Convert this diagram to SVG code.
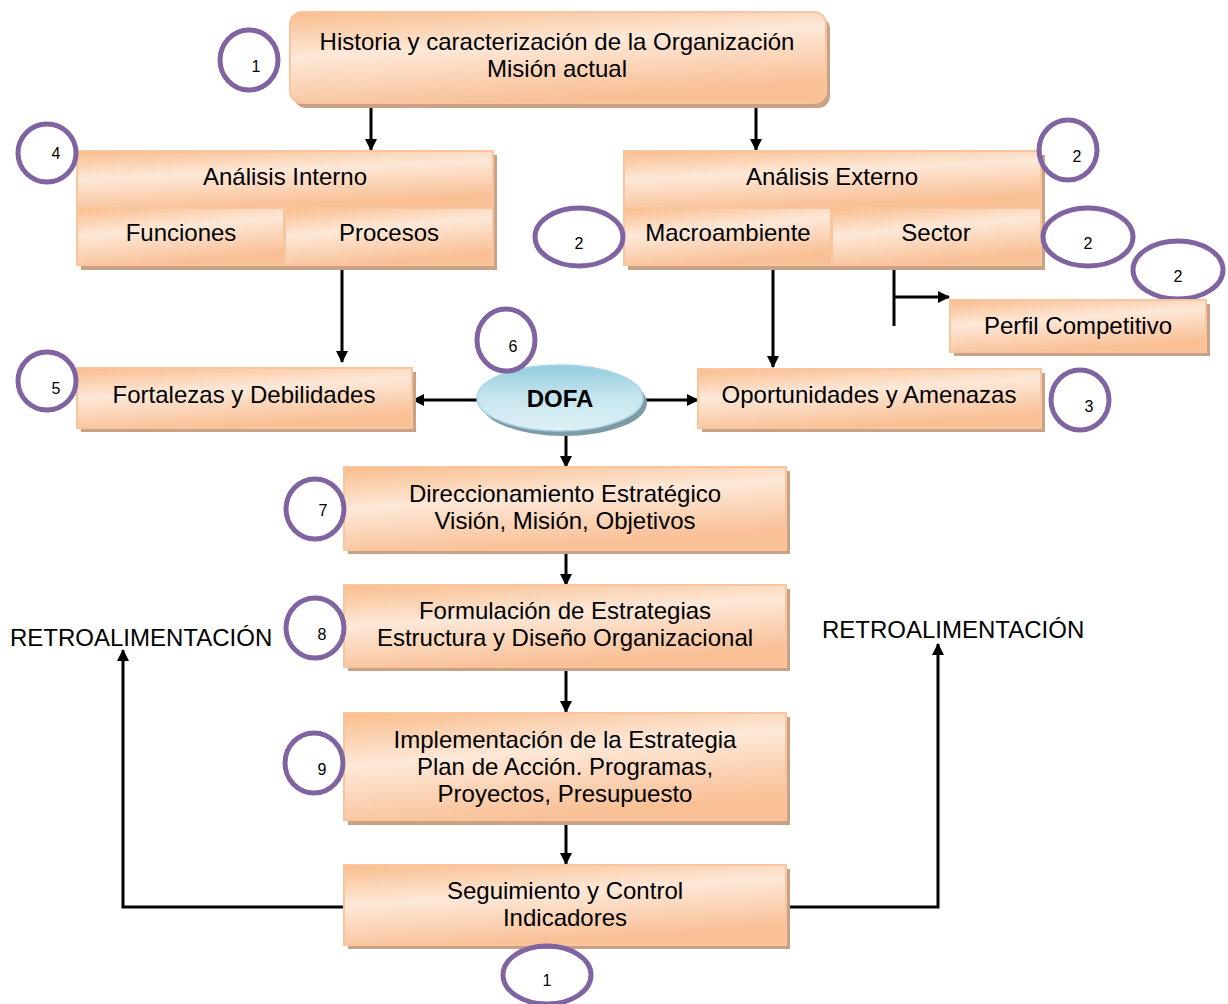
<svg xmlns="http://www.w3.org/2000/svg" width="1228" height="1004" viewBox="0 0 1228 1004">
<defs>
<linearGradient id="og" x1="0" y1="0" x2="0.35" y2="1">
<stop offset="0" stop-color="#F9BD8C"/>
<stop offset="0.45" stop-color="#FDE8D8"/>
<stop offset="1" stop-color="#F9C096"/>
</linearGradient>
<linearGradient id="bg" x1="0" y1="0" x2="0" y2="1">
<stop offset="0" stop-color="#93CDDD"/>
<stop offset="0.5" stop-color="#C6E5EE"/>
<stop offset="1" stop-color="#DFF0F5"/>
</linearGradient>
<marker id="ah" markerWidth="12" markerHeight="12" refX="11" refY="6" orient="auto" markerUnits="userSpaceOnUse">
<path d="M0,0 L12,6 L0,12 z" fill="#000"/>
</marker>
</defs>
<style>
.box{fill:url(#og);stroke:#F8C59E;stroke-width:2}
.sh{fill:#C9A185}
.t{font-family:'Liberation Sans',Arial,Helvetica,sans-serif;font-size:24px;fill:#000;text-anchor:middle}
.lbl{font-family:'Liberation Sans',Arial,Helvetica,sans-serif;font-size:24px;fill:#000}
.c{fill:none;stroke:#8064A2;stroke-width:5}
.n{font-family:'Liberation Sans',Arial,Helvetica,sans-serif;font-size:16px;fill:#000;text-anchor:middle}
.ln{fill:none;stroke:#000;stroke-width:3}
</style>
<rect width="1228" height="1004" fill="#fff"/>

<g id="connectors">
<line class="ln" x1="371" y1="103" x2="371" y2="150" marker-end="url(#ah)"/>
<line class="ln" x1="756" y1="103" x2="756" y2="150" marker-end="url(#ah)"/>
<line class="ln" x1="342" y1="266" x2="342" y2="362" marker-end="url(#ah)"/>
<line class="ln" x1="773" y1="266" x2="773" y2="367" marker-end="url(#ah)"/>
<line class="ln" x1="894" y1="266" x2="894" y2="326"/>
<line class="ln" x1="894" y1="297" x2="949" y2="297" marker-end="url(#ah)"/>
<line class="ln" x1="477" y1="400" x2="413" y2="400" marker-end="url(#ah)"/>
<line class="ln" x1="643" y1="400" x2="698" y2="400" marker-end="url(#ah)"/>
<line class="ln" x1="566" y1="430" x2="566" y2="467" marker-end="url(#ah)"/>
<line class="ln" x1="566" y1="551" x2="566" y2="585" marker-end="url(#ah)"/>
<line class="ln" x1="566" y1="668" x2="566" y2="712" marker-end="url(#ah)"/>
<line class="ln" x1="566" y1="821" x2="566" y2="864" marker-end="url(#ah)"/>
<polyline class="ln" points="344,907 123,907 123,650" marker-end="url(#ah)"/>
<polyline class="ln" points="786,907 938,907 938,644" marker-end="url(#ah)"/>
</g>

<g id="n1">
<rect class="sh" x="294" y="17" width="536" height="91" rx="12"/>
<rect class="box" x="290" y="12" width="536" height="91" rx="12"/>
<text class="t" x="557" y="50">Historia y caracterización de la Organización</text>
<text class="t" x="557" y="77">Misión actual</text>
</g>
<g id="c1"><ellipse class="c" cx="249" cy="60" rx="29" ry="30"/><text class="n" x="256" y="72">1</text></g>

<g id="n-interno">
<rect class="sh" x="81" y="155" width="416" height="115"/>
<rect class="box" x="77" y="151" width="416" height="57"/>
<rect class="box" x="77" y="208" width="207" height="57"/>
<rect class="box" x="285" y="208" width="208" height="57"/>
<text class="t" x="285" y="185">Análisis Interno</text>
<text class="t" x="181" y="241">Funciones</text>
<text class="t" x="389" y="241">Procesos</text>
</g>
<g id="c4"><ellipse class="c" cx="47" cy="153" rx="29" ry="29"/><text class="n" x="56" y="159">4</text></g>

<g id="n-externo">
<rect class="sh" x="628" y="155" width="417" height="115"/>
<rect class="box" x="624" y="151" width="417" height="57"/>
<rect class="box" x="624" y="208" width="207" height="57"/>
<rect class="box" x="832" y="208" width="209" height="57"/>
<text class="t" x="832" y="185">Análisis Externo</text>
<text class="t" x="728" y="241">Macroambiente</text>
<text class="t" x="936" y="241">Sector</text>
</g>
<g id="c2a"><ellipse class="c" cx="1068" cy="150" rx="29" ry="30"/><text class="n" x="1077" y="162">2</text></g>
<g id="c2b"><ellipse class="c" cx="579" cy="237" rx="44" ry="29"/><text class="n" x="579" y="249">2</text></g>
<g id="c2c"><ellipse class="c" cx="1088" cy="237" rx="45" ry="29"/><text class="n" x="1088" y="249">2</text></g>
<g id="c2d"><ellipse class="c" cx="1178" cy="270" rx="45" ry="29"/><text class="n" x="1178" y="282">2</text></g>

<g id="n-perfil">
<rect class="sh" x="954" y="304" width="256" height="52"/>
<rect class="box" x="950" y="300" width="256" height="52"/>
<text class="t" x="1078" y="334">Perfil Competitivo</text>
</g>

<g id="n-fortalezas">
<rect class="sh" x="81" y="372" width="335" height="60"/>
<rect class="box" x="77" y="368" width="335" height="60"/>
<text class="t" x="244" y="403">Fortalezas y Debilidades</text>
</g>
<g id="c5"><ellipse class="c" cx="47" cy="381" rx="29" ry="29"/><text class="n" x="56" y="394">5</text></g>

<g id="n-dofa">
<ellipse cx="564" cy="403" rx="83" ry="33" fill="#7E9BA5"/>
<ellipse cx="560" cy="398" rx="83" ry="33" fill="url(#bg)" stroke="#A9D5E2" stroke-width="1.5"/>
<text class="t" x="560" y="407" font-weight="bold">DOFA</text>
</g>
<g id="c6"><ellipse class="c" cx="506" cy="340" rx="29" ry="31"/><text class="n" x="513" y="352">6</text></g>

<g id="n-oportunidades">
<rect class="sh" x="702" y="373" width="343" height="59"/>
<rect class="box" x="698" y="369" width="343" height="59"/>
<text class="t" x="869" y="403">Oportunidades y Amenazas</text>
</g>
<g id="c3"><ellipse class="c" cx="1080" cy="400" rx="29" ry="30"/><text class="n" x="1089" y="412">3</text></g>

<g id="n-direccionamiento">
<rect class="sh" x="348" y="471" width="442" height="83"/>
<rect class="box" x="344" y="467" width="442" height="83"/>
<text class="t" x="565" y="502">Direccionamiento Estratégico</text>
<text class="t" x="565" y="529">Visión, Misión, Objetivos</text>
</g>
<g id="c7"><ellipse class="c" cx="315" cy="509" rx="29" ry="30"/><text class="n" x="323" y="516">7</text></g>

<g id="n-formulacion">
<rect class="sh" x="348" y="589" width="442" height="82"/>
<rect class="box" x="344" y="585" width="442" height="82"/>
<text class="t" x="565" y="619">Formulación de Estrategias</text>
<text class="t" x="565" y="646">Estructura y Diseño Organizacional</text>
</g>
<g id="c8"><ellipse class="c" cx="315" cy="628" rx="29" ry="30"/><text class="n" x="322" y="640">8</text></g>

<g id="n-implementacion">
<rect class="sh" x="348" y="717" width="442" height="108"/>
<rect class="box" x="344" y="713" width="442" height="107"/>
<text class="t" x="565" y="748">Implementación de la Estrategia</text>
<text class="t" x="565" y="775">Plan de Acción. Programas,</text>
<text class="t" x="565" y="802">Proyectos, Presupuesto</text>
</g>
<g id="c9"><ellipse class="c" cx="314" cy="763" rx="29" ry="30"/><text class="n" x="322" y="775">9</text></g>

<g id="n-seguimiento">
<rect class="sh" x="348" y="869" width="442" height="80"/>
<rect class="box" x="344" y="865" width="442" height="80"/>
<text class="t" x="565" y="899">Seguimiento y Control</text>
<text class="t" x="565" y="926">Indicadores</text>
</g>
<g id="c10"><ellipse class="c" cx="547" cy="975" rx="44" ry="29"/><text class="n" x="547" y="986">1</text></g>

<text class="lbl" x="10" y="646">RETROALIMENTACIÓN</text>
<text class="lbl" x="822" y="638">RETROALIMENTACIÓN</text>
</svg>
